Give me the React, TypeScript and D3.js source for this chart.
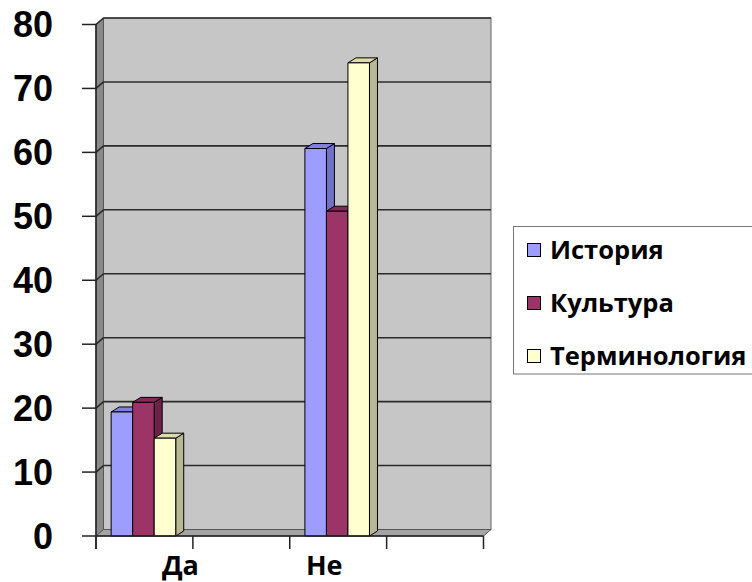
import React from "react";
import * as d3 from "d3";

const categories = ["Да", "", "Не", ""];
const seriesNames = ["История", "Культура", "Терминология"];
const historyValues = [19.4, null, 60.6, null];
const cultureValues = [20.9, null, 50.8, null];
const termValues = [15.3, null, 74.0, null];
const yTicks = [0, 10, 20, 30, 40, 50, 60, 70, 80];

const seriesValues = [historyValues, cultureValues, termValues];
const frontColors = ["#9d9dff", "#9c3468", "#ffffcf"];
const sideColors = ["#7272c4", "#6e2249", "#b8b892"];
const topColors = ["#8080e0", "#822b57", "#dcdcb0"];
const labelDx = [36, 0, -14, 0];

const W = 752;
const H = 582;
const X0 = 96;
const X1 = 483.5;
const Y0 = 536;
const Y1 = 24.5;
const WDX = 7.5;
const WDY = -6.5;
const BDX = 8;
const BDY = -5;

export default function App() {
  const x = d3.scaleBand<string>().domain(categories.map((c, i) => String(i))).range([X0, X1]);
  const inner = d3
    .scaleBand<string>()
    .domain(seriesNames)
    .range([0, x.bandwidth()])
    .paddingInner(0)
    .paddingOuter(0.75);
  const y = d3.scaleLinear().domain([0, 80]).range([Y0, Y1]);
  const bw = inner.bandwidth();

  const font = "'Open Sans', 'DejaVu Sans', sans-serif";

  const bars: React.ReactNode[] = [];
  categories.forEach((c, ci) => {
    seriesNames.forEach((s, si) => {
      const v = seriesValues[si][ci];
      if (v == null) return;
      const bx = (x(String(ci)) as number) + (inner(s) as number) - 1;
      const by = y(v);
      const side = `M${bx + bw},${Y0} L${bx + bw + BDX},${Y0 + BDY} L${bx + bw + BDX},${by + BDY} L${bx + bw},${by} Z`;
      const top = `M${bx},${by} L${bx + BDX},${by + BDY} L${bx + bw + BDX},${by + BDY} L${bx + bw},${by} Z`;
      bars.push(
        <g key={`${ci}-${si}`} stroke="#000" strokeWidth={1} strokeLinejoin="round">
          <path d={side} fill={sideColors[si]} />
          <path d={top} fill={topColors[si]} />
          <rect x={bx} y={by} width={bw} height={Y0 - by} fill={frontColors[si]} />
        </g>
      );
    });
  });

  const boundaries = [...categories.map((c, i) => x(String(i)) as number), X1];

  return (
    <svg
      width={W}
      height={H}
      style={{ position: "fixed", left: 0, top: 0, background: "#fff" }}
      fontFamily={font}
    >
      {/* back wall */}
      <rect x={X0 + WDX} y={Y1 + WDY} width={X1 - X0} height={Y0 - Y1} fill="#c6c6c6" stroke="#666" strokeWidth={1} />
      {/* left wall */}
      <path
        d={`M${X0},${Y1} L${X0 + WDX},${Y1 + WDY} L${X0 + WDX},${Y0 + WDY} L${X0},${Y0} Z`}
        fill="#8a8a8a"
        stroke="#555"
        strokeWidth={1}
      />
      {/* floor */}
      <path
        d={`M${X0},${Y0} L${X1},${Y0} L${X1 + WDX},${Y0 + WDY} L${X0 + WDX},${Y0 + WDY} Z`}
        fill="#a4a4a4"
        stroke="#555"
        strokeWidth={1}
      />
      {/* gridlines */}
      {yTicks.slice(1).map((t) => (
        <g key={t} stroke="#2a2a2a" strokeWidth={1.6}>
          <line x1={X0 + WDX} x2={X1 + WDX} y1={y(t) + WDY} y2={y(t) + WDY} />
          <line x1={X0} x2={X0 + WDX} y1={y(t)} y2={y(t) + WDY} />
        </g>
      ))}
      {/* bars */}
      {bars}
      {/* axes */}
      <g stroke="#222" strokeWidth={1.5}>
        <line x1={X0} x2={X0} y1={Y1} y2={Y0 + 13} />
        <line x1={X0} x2={X1} y1={Y0} y2={Y0} />
        {yTicks.map((t) => (
          <line key={t} x1={X0 - 14} x2={X0} y1={y(t)} y2={y(t)} />
        ))}
        {boundaries.map((b, i) => (
          <line key={i} x1={b} x2={b} y1={Y0} y2={Y0 + 13} />
        ))}
      </g>
      {/* y labels */}
      {yTicks.map((t) => (
        <text
          key={t}
          x={53}
          y={y(t)}
          dy="0.36em"
          textAnchor="end"
          fontSize={36}
          fontWeight={700}
          fontFamily="'Liberation Sans', Arial, sans-serif"
          fill="#000"
        >
          {t}
        </text>
      ))}
      {/* x labels */}
      {categories.map((c, i) =>
        c ? (
          <text
            key={i}
            x={(x(String(i)) as number) + x.bandwidth() / 2 + labelDx[i]}
            y={575}
            textAnchor="middle"
            fontSize={27}
            fontWeight={700}
            fill="#000"
          >
            {c}
          </text>
        ) : null
      )}
      {/* legend */}
      <rect x={513.5} y={226.5} width={260} height={147.5} fill="#fff" stroke="#777" strokeWidth={1} />
      {seriesNames.map((s, i) => {
        const cy = 250 + i * 53;
        return (
          <g key={s}>
            <rect x={527.5} y={cy - 6.5} width={13} height={13} fill={frontColors[i]} stroke="#000" strokeWidth={1} />
            <text x={550} y={cy} dy="0.36em" fontSize={25.5} fontWeight={700} fill="#000">
              {s}
            </text>
          </g>
        );
      })}
    </svg>
  );
}
